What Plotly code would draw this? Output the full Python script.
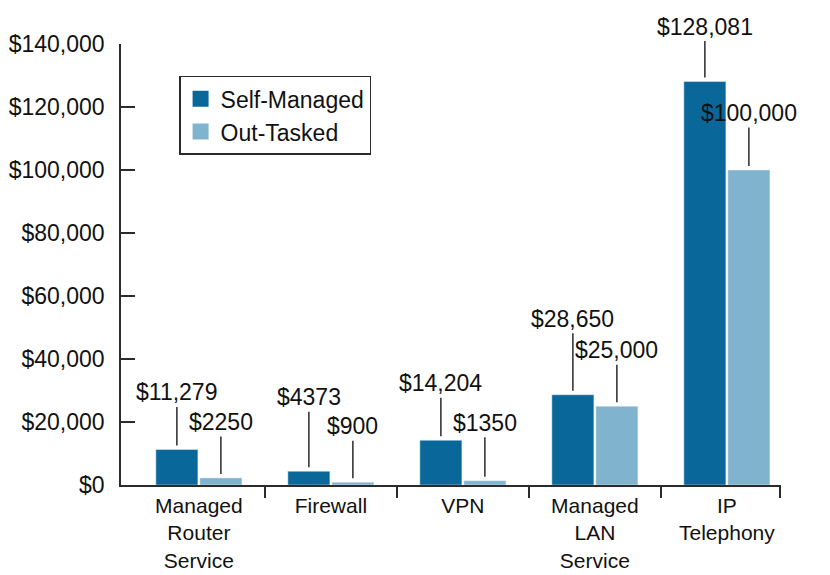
import plotly.graph_objects as go

# Data
categories = ["Managed<br>Router<br>Service", "Firewall", "VPN",
              "Managed<br>LAN<br>Service", "IP<br>Telephony"]
self_managed = [11279, 4373, 14204, 28650, 128081]
out_tasked = [2250, 900, 1350, 25000, 100000]
self_labels = ["$11,279", "$4373", "$14,204", "$28,650", "$128,081"]
out_labels = ["$2250", "$900", "$1350", "$25,000", "$100,000"]

# Styling
DARK = "#0A6799"
LIGHT = "#80B3CD"
AXIS = "#2b2b2b"
FONT = "Liberation Sans, Arial, sans-serif"
FSIZE = 23

# vertical pixel offset of each label above its bar
self_offsets = [-57, -74, -57, -76, -55]
out_offsets = [-56, -56, -58, -56, -57]

x_pos = list(range(len(categories)))
half_slot = 1 / 6  # centre of each bar inside a group

fig = go.Figure()

fig.add_trace(go.Bar(x=x_pos, y=self_managed, marker_color=DARK,
                     name="Self-Managed", showlegend=False))
fig.add_trace(go.Bar(x=x_pos, y=out_tasked, marker_color=LIGHT,
                     name="Out-Tasked", showlegend=False))

# legend entries with larger swatches
for name, color in [("Self-Managed", DARK), ("Out-Tasked", LIGHT)]:
    fig.add_trace(go.Scatter(x=[None], y=[None], mode="markers", name=name,
                             marker=dict(symbol="square", size=16, color=color)))

# value labels with leader lines
annotations = []
for i in x_pos:
    for val, txt, off, dx in [(self_managed[i], self_labels[i], self_offsets[i], -half_slot),
                              (out_tasked[i], out_labels[i], out_offsets[i], half_slot)]:
        annotations.append(dict(
            x=i + dx, y=val, xref="x", yref="y", text=txt,
            showarrow=True, arrowhead=0, arrowwidth=1.5, arrowcolor=AXIS,
            ax=0, ay=off, standoff=4,
            font=dict(family=FONT, size=FSIZE, color="#111"),
        ))

boundaries = [0.5, 1.5, 2.5, 3.5, 4.405]

# page body has an 8px margin, so the figure is a bit smaller than the window
fig.update_layout(
    width=822, height=567,
    margin=dict(l=113, r=49, t=36, b=90),
    paper_bgcolor="white", plot_bgcolor="white",
    barmode="group", bargap=0.333, bargroupgap=0.045,
    font=dict(family=FONT, size=FSIZE, color="#111"),
    showlegend=True,
    legend=dict(x=0.088, y=0.928, xanchor="left", yanchor="top",
                bordercolor=AXIS, borderwidth=1.5, bgcolor="white",
                font=dict(family=FONT, size=FSIZE), tracegroupgap=0),
    annotations=annotations,
    xaxis=dict(
        range=[-0.59, 4.41], tickmode="array", tickvals=x_pos, ticktext=categories,
        ticks="", showline=True, linecolor=AXIS, linewidth=1.5, automargin=False,
        showgrid=False, zeroline=False, ticklabelstandoff=1,
        tickfont=dict(family=FONT, size=21),
        minor=dict(tickmode="array", tickvals=boundaries, ticks="outside",
                   ticklen=11, tickwidth=1.5, tickcolor=AXIS, showgrid=False),
    ),
    yaxis=dict(
        range=[0, 140000], tickmode="linear", tick0=0, dtick=20000,
        tickprefix="$", tickformat=",d", ticks="inside", ticklen=14,
        tickwidth=1.5, tickcolor=AXIS, showline=True, linecolor=AXIS,
        linewidth=1.5, showgrid=False, zeroline=False, ticklabelstandoff=10,
        automargin=False,
    ),
)

fig.write_html("out.html")
